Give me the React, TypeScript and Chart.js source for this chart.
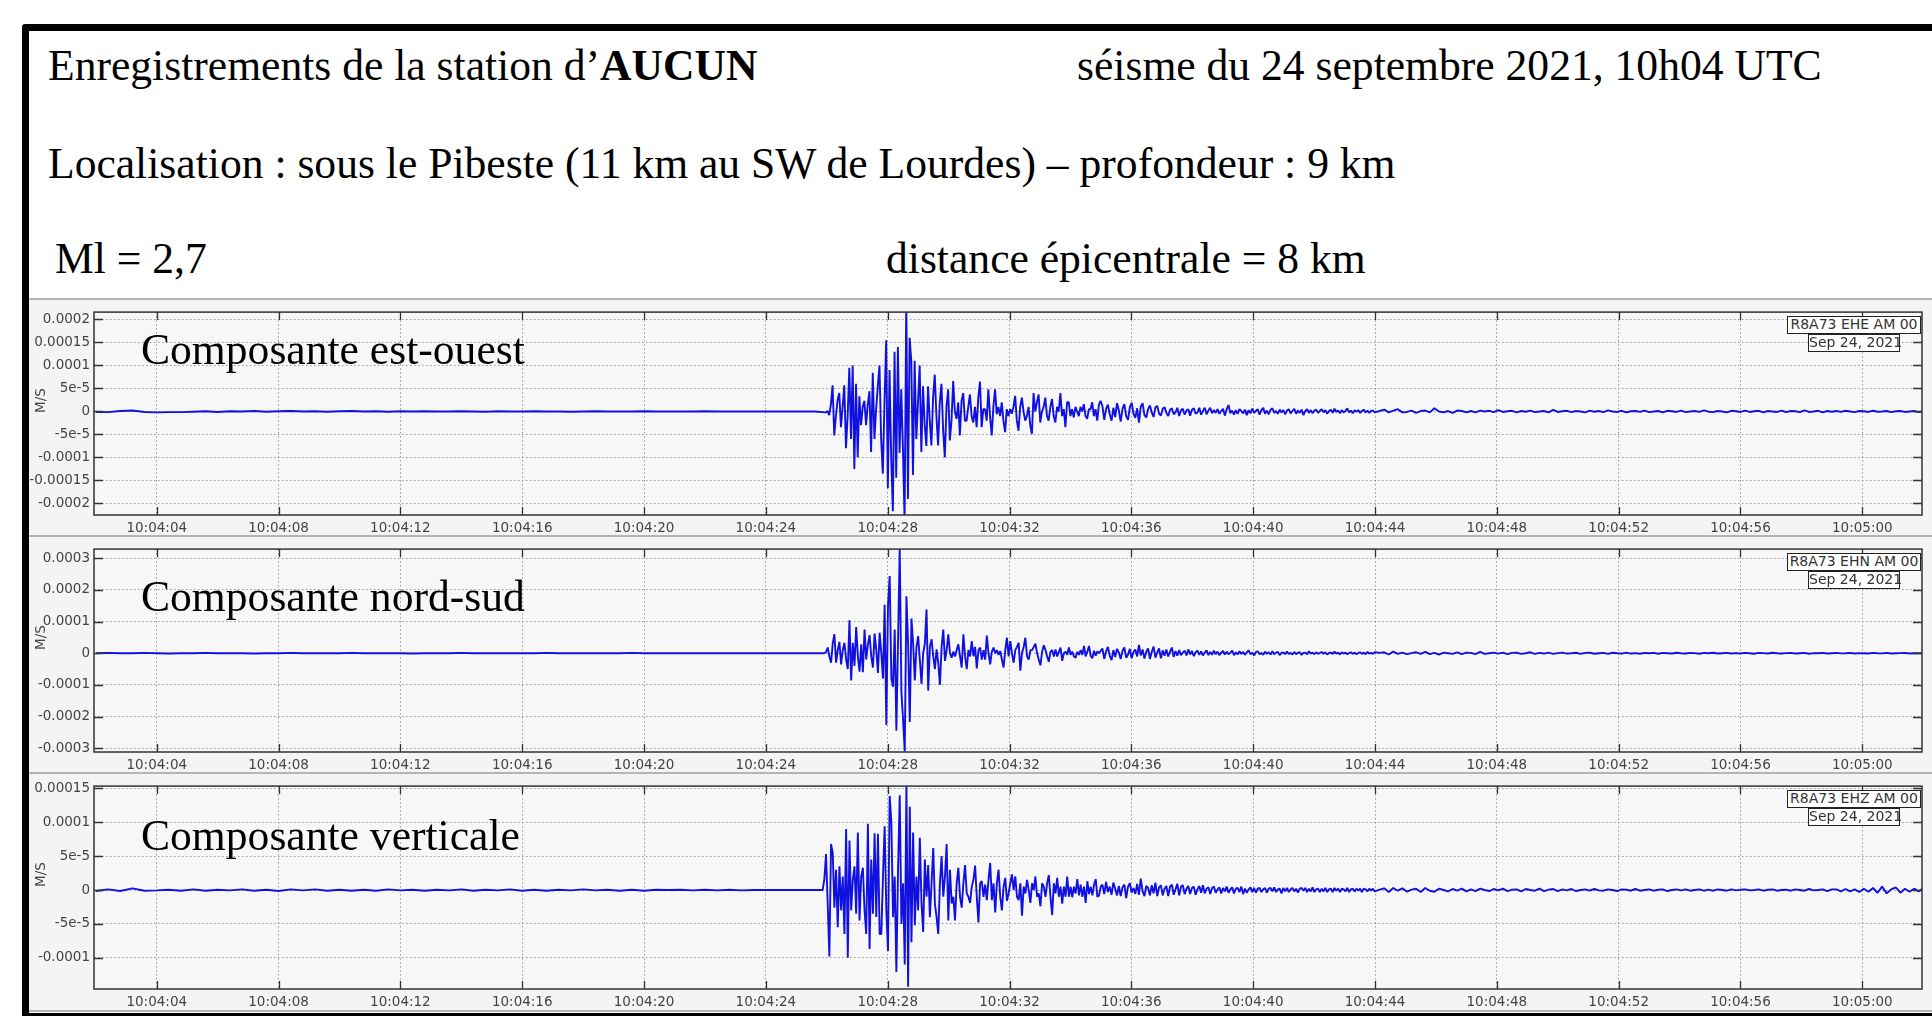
import { useEffect, useRef } from "react";
import { Chart, registerables } from "chart.js";
Chart.register(...registerables);

// all trace values are in units of 1e-5 M/S
const xTickSeconds = [4, 8, 12, 16, 20, 24, 28, 32, 36, 40, 44, 48, 52, 56, 60];
const xTickLabels = [
  "10:04:04", "10:04:08", "10:04:12", "10:04:16", "10:04:20", "10:04:24", "10:04:28", "10:04:32",
  "10:04:36", "10:04:40", "10:04:44", "10:04:48", "10:04:52", "10:04:56", "10:05:00",
];

const eheYTicks = [-20, -15, -10, -5, 0, 5, 10, 15, 20];
const eheYLabels = ["-0.0002", "-0.00015", "-0.0001", "-5e-5", "0", "5e-5", "0.0001", "0.00015", "0.0002"];
const ehnYTicks = [-30, -20, -10, 0, 10, 20, 30];
const ehnYLabels = ["-0.0003", "-0.0002", "-0.0001", "0", "0.0001", "0.0002", "0.0003"];
const ehzYTicks = [-10, -5, 0, 5, 10, 15];
const ehzYLabels = ["-0.0001", "-5e-5", "0", "5e-5", "0.0001", "0.00015"];

const ehePre = [
  -0.1, -0.15, 0.1, 0.2, -0.1, -0.2, -0.15, -0.15, -0.05, 0.05, -0.1, 0.05, 0, 0.1, -0.05, 0.05, 0.1, 0, 0.05, -0.05,
  0.05, 0.1, 0, 0.05, -0.05, 0.05, 0, 0.05, 0, 0, 0.05, 0, -0.05, 0.05, 0, 0, 0.05, 0, 0, -0.05,
  0, 0.05, 0, 0, 0, 0.05, 0, 0, 0, 0, 0.05, 0, 0, 0, 0, 0, 0, 0, 0, 0,
];
const eheBurst = [
  -0.2, 0.1, -0.8, 1.5, 5.7, -5.2, -1, 2.5, 4, -3.4, 1, 5.7, -8, -1, 9.5, -6, 10, -12.5, 6, -10,
  3.3, -3, 1, 2.3, -3, 1.5, 4.4, -8.8, 8.4, -6, 0.5, 5.5, 10, -6, -13.5, 2, 15.5, -16.7, 9, -10,
  -21.7, 13, -14.4, 14, -9, 4.8, -8, -24, 24, -19, 16, 11, -13.8, 11, -6, 2, 10, -8.8, 5.5, -3,
  -7.5, 5.5, -2, -7.4, 3, 8, -1, -7.4, 2, 6, -4, -10, 1, 4.8, -6.3, -2, 6.6, 0, -1.6, 2,
  -5.2, 2.3, 4, -2, -2, 1, 3.7, -1, -2.4, 1, -3.4, 3, 6.5, -3.4, 0.5, 0.5, -2, 4.8, -1, -5.2,
  1, 4.8, -0.6, 1, -1, 2, -2, -4.5, 0.5, -1, 0.5, -0.5, 1, 3.4, -2, -4.2, 1, 3, 0, -2,
  -1, 1, -3, -4.9, 4, 0, 2, 3.7, -2.4, 0, 1, 3, -1, -2, 1, 2.7, -1, -2.4, 1, 0,
  4, -1, 0.5, -3.4, 2, 2, -1, 0.5, -1.3, 1, 0, -1, 1, 0, 1.6, -1, -1.6, 0.5, 0.5, 2,
  -1, 0.5, -2, 1.5, 2.3,
];
const eheCoda = [
  1.2, -1.8, 0.5, 1.5, -0.6, -2, 0.8, -1.2, 1.8, 0.2, -2.2, 0.6, 1.6, -1, -1.8, 0.9, 1.9, -0.4, -1.4, 0.7,
  -2.4, 1.1, 1.8, -0.8, -1.3, 0.5, 1.3, -0.2, -1.2, 0.9, 1.2, -0.5, -0.9, 0.6, 0.9, -0.3, -1, 0.4, 0.7, -0.6,
  -0.2, 0.8, -1, 0.3, 0.6, -0.7, 0.2, 0.5, -0.9, 0.4, 0.7, -0.5, -0.2, 0.8, -0.7, 0.1, 0.8, -0.6, 0.2, 0.8,
  -0.4, 0.3, -0.3, 0.5, -0.5, 0.1, 0.6, -0.9, 0.5, 1.4, -0.4, 0.2, -0.7, 0.3, -0.5, 0.5, 0.1, -0.4, 0.4, -0.8,
  0.3, -0.4, 0.6, -0.3, 0.1, 0.5, -0.7, 0.3, 0.8, -0.5, 0.2, -0.6, 0.4, 0.7, -0.3, 0.1, -0.5, 0.4, -0.2, 0.3,
  -0.6, 0.2, 0.5, -0.4, 0.1, 0.6, -0.5, 0.2, -0.3, 0.4, -0.8, 0.1, 0.5, -0.3, 0.3, -0.4, 0.2, 0.4, -0.3, 0.1,
  0.5, -0.2, 0.3, -0.5, 0.1, 0.4, -0.3, 0.6, -0.1, 0.2, -0.4, 0.3, -0.2, 0.1, 0.7, -0.2, 0.2, -0.4, 0.3, -0.1,
  0.3, -0.3, 0.1, 0.4, -0.2, 0.2, -0.3, 0.1, 0.2, -0.2,
];
const eheTail = [
  0.1, 0.4, -0.2, 0.2, 0.5, -0.2, -0.1, 0.2, -0.3, 0.1, 0.2, -0.2, 0.7, 0, -0.2, 0.1, -0.3, 0.2, 0.1, -0.2,
  0.1, -0.2, 0.2, 0, 0.15, -0.15, 0.3, -0.1, 0.05, 0.15, -0.2, 0.1, -0.05, 0.2, -0.15, 0, 0.1, -0.2, 0.35, -0.1,
  0.05, 0.15, -0.15, 0.1, 0, -0.2, 0.2, -0.05, 0.1, -0.15, 0.25, 0, -0.1, 0.15, -0.2, 0.05, 0.1, -0.1, 0.2, -0.15,
  0, 0.1, -0.2, 0.15, 0.05, -0.1, 0.2, -0.15, 0, 0.1, -0.1, 0.25, -0.05, -0.15, 0.1, 0, -0.2, 0.15, 0.05, -0.1,
  0.2, -0.1, 0.05, 0.15, -0.2, 0.1, 0, -0.1, 0.2, -0.15, 0.1, 0.05, -0.15, 0.25, -0.1, 0, 0.15, -0.2, 0.1, -0.05,
  0.1, -0.1, 0.15, 0, -0.15, 0.1, 0.05, -0.1, 0.15, -0.05, 0, 0.1, -0.15, 0.05, 0.1, -0.1, 0, 0.1, -0.15, 0.05,
];

const ehnPre = [
  0, 0.1, 0, 0, 0.1, 0, -0.1, 0, 0, 0.1, 0, 0, 0, -0.1, 0, 0, 0.1, 0, 0, 0,
  0, 0.1, 0, 0, 0, 0, -0.1, 0, 0, 0, 0.1, 0, 0, 0, 0, 0, 0, 0.1, 0, 0,
  0, 0, 0, 0, 0.1, 0, 0, 0, 0, 0, 0, 0, 0, 0, 0, 0, 0, 0, 0, 0,
];
const ehnBurst = [
  0, 0.4, 1.8, -1, -3, 3, 6, -3, 1, 3.6, -3.5, 1, 3.3, -2, -5, 10.4, -8.6, 3.3, -4, 8.3,
  -1, -5.8, 2.8, -6, 7.5, -2, 2.8, 5.7, -1, -4.5, 6.2, 1, -6.2, 6.5, 0, -8, 15.3, -22.7, 15, 24.4,
  -8, -10.6, 7.5, -24.5, 4, 33, -12.3, -21, -31, 18, 3, -21.7, 11, 3, -8.6, 2, 5.4, -2, -9.7, 0,
  3, 13.8, -11.8, 2, 4.4, -1, -5, 1.2, -3, -10, 2, 7.5, -2.4, 1, 6, 0, -1.4, 0.5, -1, 1,
  2.8, -1, -4.5, 6, -1, -5, 1, -1, 3.8, -1, 2, -4.8, 1, 1.8, -2, 1, -2, 5.6, 0, -3.5,
  0.5, 1.8, 0, 1, -0.5, 0.7, -2, -4.5, 1, 4.9, -1, 3.8, 0, -3, 1, 2, 3.3, -5.5, 0, 2,
  4.9, -1, -2, 1, 1, 2, 3, 0, -2, -3.8, 0.5, 2.5, 1, -1, -2.7, 0.5, 1, -1, 1.2, -1,
  0.5, 1.8, -2.4, 0, 0.5, -0.5, 1.8, -0.5, 0.5, -1, -1.4, 0.5, -0.5, 1, -0.5, 2.3, -1, 0.5, 2.3, -0.8,
  -1.6, 0.8, -0.8, 0.6, 0,
];
const ehnCoda = [
  1.5, -1.8, 0.6, 2, -0.8, -2.2, 1, -1.2, 1.4, 0.2, -1.8, 0.8, 1.8, -1.4, -0.5, 1.4, -1.6, 0.4, 1.2, -1,
  2.6, -0.7, 1.2, -1.7, 0.5, 1.5, -1.8, 0.4, 2.1, -1.4, 0.3, 1.5, -1.6, 0.9, -0.8, 1.2, -1, 0.4, 1.8, -1.2,
  0.7, -0.8, 1, -0.6, 0.2, 0.8, -0.7, 1.2, -0.4, 0.7, -0.9, 0.3, 0.8, -0.5, 0.6, -0.7, 0.2, 0.9, -0.6, 0.4,
  -0.5, 0.8, -0.3, 0.5, -0.6, 0.2, 0.7, -0.4, 0.5, -0.3, 0.2, 0.8, -0.6, 0.3, -0.4, 0.6, -0.2, 0.4, -0.5, 0.3,
  0.9, -0.3, 0.2, -0.7, 0.4, 0.6, -0.3, 0.1, -0.5, 0.5, -0.2, 0.3, -0.4, 0.6, -0.3, 0.2, 0.4, -0.6, 0.1, 0.3,
  -0.3, 0.5, -0.2, 0.1, -0.4, 0.4, -0.3, 0.2, 0.3, -0.5, 0.1, 0.2, -0.3, 0.6, -0.1, 0.2, -0.3, 0.3, -0.2, 0.1,
  0.4, -0.2, 0.3, -0.4, 0.1, 0.2, -0.2, 0.5, -0.1, 0.2, -0.4, 0.3, -0.1, 0.2, -0.3, 0.1, 0.3, -0.2, 0.2, -0.3,
  0.1, 0.3, -0.2, 0.2, -0.3, 0.4, -0.1, 0.1, -0.2, 0.3,
];
const ehnTail = [
  0.1, 0.3, -0.4, 0.5, -0.2, 0.2, -0.3, 0.05, 0.3, -0.2, 0.4, -0.3, 0.1, -0.4, 0.2, 0, -0.2, 0.3, -0.3, 0.2,
  0.1, -0.3, 0.4, -0.2, 0, 0.2, -0.1, 0.2, -0.3, 0.1, 0.15, -0.2, 0, 0.3, -0.2, 0.1, -0.1, 0.2, -0.2, 0.05,
  0.2, -0.1, 0, 0.15, -0.2, 0.1, 0.2, -0.15, 0, 0.1, -0.2, 0.15, 0, -0.1, 0.2, -0.1, 0.05, -0.15, 0.1, 0,
  0.1, -0.15, 0.1, 0, -0.1, 0.15, 0, -0.1, 0.1, 0.05, -0.15, 0.1, 0, 0.15, -0.1, 0, 0.1, -0.1, 0.05, -0.1,
  0.1, 0, -0.15, 0.1, 0.05, -0.1, 0.15, 0, -0.1, 0.05, 0.1, -0.1, 0, 0.1, -0.15, 0.05, 0, 0.1, -0.1, 0,
  0.1, -0.05, 0, 0.1, -0.1, 0.05, 0, -0.1, 0.1, 0, -0.05, 0.1, -0.1, 0, 0.05, 0.1, -0.1, 0, 0.05, -0.05,
];

const ehzPre = [
  -0.15, 0.1, -0.15, 0.25, -0.1, -0.05, 0.05, -0.1, 0.1, -0.1, 0.05, -0.05, 0.1, -0.1, 0.05, -0.15, 0.1, -0.05, 0.1, -0.1,
  0.05, -0.1, 0.05, -0.1, 0.1, -0.05, 0.05, -0.1, 0.05, -0.05, 0.1, -0.1, 0.05, -0.05, 0.1, -0.1, 0.05, -0.1, 0.05, -0.05,
  0.1, -0.05, 0.05, -0.1, 0.05, -0.1, 0.05, 0, 0.05, -0.05, 0.05, -0.05, 0.05, -0.05, 0, 0, 0, 0, 0, 0,
];
const ehzBurst = [
  0, 1.6, 5.3, -2, -9.8, 6.8, 5.5, -2.6, 3, -5.5, 3.5, -3, 2, -6.5, 9, -10, 7.3, -3, 1.5, 3.5, -3.5,
  8.5, -4.5, 2, 3.3, -3, -6.5, 9.8, -8.7, 4.5, -3.5, 8.4, -4, 8.3, -6.5, -6.5, 2, 9.4, -3, -9, 13.9,
  10, -4, 2, -12.1, 3, 14, -5, 1, -11, 15.6, -14.3, 12.3, -7.7, 8.5, -5.2, 2, -3, 7.7, -2, -6.2,
  4.5, -1, 3.7, -4, 1, 6.2, -2, -4, -6.5, 1, 5, -1, 2, 6.8, -4.5, 3, -2, -1, -4.5, 1,
  3.3, -1, -2.6, 1, 3.7, -0.5, -1, -1.9, 0.5, 1.5, 3.6, -1, -4.8, 1, 1.3, -1, 0.8, -1.5, 1.5, 4,
  -1.5, 1, -3.3, 1, 3, -1, -3, 0.5, 1.8, -1.6, -0.5, 1, 2.3, 0, 2, -1, -1.5, 1, -3.8, 0.5,
  -0.5, 1.5, 0, -1.9, 1, 0, 2, -1, -0.5, -2.4, 1, 0.5, -1, 1, 2.2, -1, -3.7, 1, -0.5, 1.8,
  -1, 0.5, -2, 0.5, -1, 2, -1, 0.5, -1.1, 0.5, -0.5, 1.6, -0.8, 0.8, -1, 0.5, -1.9, 1.3, -0.6, 0.5,
  -0.8, 0.8, 1.6, -1, -0.8, 0.5,
];
const ehzCoda = [
  0.8, -0.6, 1.2, -0.3, 0.5, -0.7, 1.1, 0.2, -0.8, 0.6, -0.9, 0.4, 0.8, -1.2, 0.5, 1, -0.4, 0.3, -0.6, 0.9,
  -0.7, 1.7, -0.2, -0.9, 0.6, 0.3, -0.8, 0.7, -0.5, 1.1, -0.9, 0.4, 0.7, -0.8, 0.2, 0.6, -0.9, 0.5, 0.8, -0.7,
  0.1, 0.9, -0.8, 0.5, 0.7, -0.6, 0.2, 0.6, -0.6, 0.3, 0.5, -0.7, 0.1, 0.6, -0.4, 0.7, -0.5, 0.2, 0.4, -0.6,
  0.3, 0.5, -0.4, 0.1, 0.4, -0.5, 0.3, -0.2, 0.5, -0.4, 0.1, 0.4, -0.5, 0.2, 0.3, -0.3, 0.5, -0.6, 0.2, -0.4,
  0.1, 0.4, -0.3, 0.3, -0.4, 0.2, 0.3, -0.3, 0.1, 0.3, -0.4, 0.2, 0.3, -0.2, 0.4, -0.3, 0.1, 0.2, -0.5, 0.3,
  -0.2, 0.3, -0.3, 0.1, 0.3, -0.2, 0.2, -0.4, 0.2, 0.3, -0.1, 0.3, -0.3, 0.2, -0.2, 0.4, -0.3, 0.1, 0.2, -0.3,
  0.2, -0.2, 0.3, -0.3, 0.1, 0.2, -0.3, 0.3, -0.1, 0.2, -0.3, 0.2, 0.1, -0.2, 0.3, -0.3, 0.1, 0.2, -0.2, 0.2,
  -0.1, 0.2, -0.3, 0.2, 0.1, -0.2, 0.2, -0.1, 0.2, -0.2,
];
const ehzTail = [
  0.05, 0.25, -0.3, 0.3, -0.1, 0.25, -0.25, 0.05, 0.2, -0.3, 0.3, -0.1, -0.25, 0.2, 0, -0.2, 0.15, -0.1, 0.2, -0.2,
  0.1, -0.15, 0.2, 0, -0.15, 0.15, -0.05, 0.2, -0.15, 0.05, 0.1, -0.2, 0.15, 0, -0.1, 0.2, -0.15, 0.05, 0.15, -0.15,
  0.1, -0.05, 0.15, -0.15, 0, 0.1, -0.1, 0.15, -0.05, -0.1, 0.1, 0, -0.15, 0.1, 0.05, -0.1, 0.15, -0.1, 0, 0.1,
  -0.1, 0.05, 0.1, -0.15, 0, 0.1, -0.05, 0.1, -0.1, 0, 0.1, -0.1, 0.05, -0.1, 0.1, 0, -0.1, 0.1, -0.05, 0.05,
  0.1, -0.05, 0, 0.1, -0.1, 0.05, 0.1, -0.1, 0, 0.05, -0.1, 0.1, 0, -0.1, 0.15, -0.05, 0, 0.1, -0.15, 0.1,
  0.1, -0.2, 0.15, -0.2, 0.1, -0.3, 0.2, -0.25, 0.3, -0.4, 0.5, -0.5, 0.1, 0.4, -0.4, 0.2, -0.25, 0.2, -0.2, 0.25,
];

const preStart = 2;
const preStep = 0.4;
const burstStep = 0.055;
const codaStart = 35.05;
const codaStep = 0.06;
const tailStart = 44.15;
const tailStep = 0.15;

const buildPoints = (pre: number[], burst: number[], burstStart: number, coda: number[], tail: number[]) => [
  ...pre.map((y, i) => ({ x: preStart + i * preStep, y })),
  ...burst.map((y, i) => ({ x: burstStart + i * burstStep, y })),
  ...coda.map((y, i) => ({ x: codaStart + i * codaStep, y })),
  ...tail.map((y, i) => ({ x: tailStart + i * tailStep, y })),
];

// plot background, frame and the short ticks pointing into the plot
const framePlugin = {
  id: "frame",
  beforeDraw: (chart: any) => {
    const { ctx, chartArea: a } = chart;
    ctx.save();
    ctx.fillStyle = "#f7f7f7";
    ctx.fillRect(a.left, a.top, a.right - a.left, a.bottom - a.top);
    ctx.restore();
  },
  afterDraw: (chart: any) => {
    const { ctx, chartArea: a, scales } = chart;
    ctx.save();
    ctx.strokeStyle = "#333";
    ctx.lineWidth = 1.3;
    ctx.beginPath();
    scales.x.ticks.forEach((t: any) => {
      const px = Math.round(scales.x.getPixelForValue(t.value)) + 0.5;
      ctx.moveTo(px, a.top);
      ctx.lineTo(px, a.top + 8);
      ctx.moveTo(px, a.bottom);
      ctx.lineTo(px, a.bottom - 8);
    });
    scales.y.ticks.forEach((t: any) => {
      const py = Math.round(scales.y.getPixelForValue(t.value)) + 0.5;
      ctx.moveTo(a.left, py);
      ctx.lineTo(a.left + 9, py);
      ctx.moveTo(a.right, py);
      ctx.lineTo(a.right - 9, py);
    });
    ctx.stroke();
    ctx.lineWidth = 1.5;
    ctx.strokeRect(a.left, a.top, a.right - a.left, a.bottom - a.top);
    ctx.restore();
  },
};

const Trace = ({ top, points, yMin, yMax, yTicks, yLabels }: any) => {
  const ref = useRef<HTMLCanvasElement>(null);

  useEffect(() => {
    const chart = new Chart(ref.current!, {
      type: "line",
      data: {
        datasets: [
          {
            data: points,
            borderColor: "#1010e0",
            borderWidth: 1.9,
            borderJoinStyle: "bevel",
            pointRadius: 0,
            tension: 0,
          },
        ],
      },
      options: {
        responsive: false,
        animation: false,
        devicePixelRatio: 1,
        layout: { padding: { top: 10, right: 10, left: 0, bottom: 0 } },
        plugins: { legend: { display: false }, tooltip: { enabled: false } },
        scales: {
          x: {
            type: "linear",
            min: 1.94,
            max: 61.96,
            afterFit: (s: any) => {
              s.height = 21;
            },
            afterBuildTicks: (s: any) => {
              s.ticks = xTickSeconds.map((value) => ({ value }));
            },
            grid: { color: "#999", lineWidth: 1, drawTicks: false },
            border: { display: false, dash: [1.5, 2.5] },
            ticks: {
              autoSkip: false,
              maxRotation: 0,
              padding: 5,
              color: "#444",
              font: { family: "DejaVu Sans", size: 13.5 },
              callback: (_v: any, i: number) => xTickLabels[i],
            },
          },
          y: {
            min: yMin,
            max: yMax,
            afterFit: (s: any) => {
              s.width = 65;
            },
            afterBuildTicks: (s: any) => {
              s.ticks = yTicks.map((value: number) => ({ value }));
            },
            grid: { color: "#999", lineWidth: 1, drawTicks: false },
            border: { display: false, dash: [1.5, 2.5] },
            ticks: {
              autoSkip: false,
              padding: 4,
              color: "#444",
              font: { family: "DejaVu Sans", size: 13.5 },
              callback: (_v: any, i: number) => yLabels[i],
            },
          },
        },
      },
      plugins: [framePlugin],
    } as any);
    return () => chart.destroy();
  }, []);

  return (
    <canvas
      ref={ref}
      width={1903}
      height={236}
      style={{ position: "absolute", left: 29, top, width: 1903, height: 236, background: "#f4f4f4" }}
    />
  );
};

const serif = (left: number, top: number, children: any) => (
  <div
    style={{
      position: "absolute",
      left,
      top,
      fontFamily: "Liberation Serif",
      fontSize: 43.6,
      lineHeight: 1,
      color: "#000",
      whiteSpace: "nowrap",
    }}
  >
    {children}
  </div>
);

const tag = (left: number, top: number, width: number, height: number, text: string) => (
  <div
    style={{
      position: "absolute",
      left,
      top,
      width,
      height,
      boxSizing: "border-box",
      border: "1.3px solid #222",
      background: "#fff",
      fontFamily: "DejaVu Sans",
      fontSize: 14,
      lineHeight: `${height - 3}px`,
      textAlign: "center",
      color: "#333",
      whiteSpace: "nowrap",
    }}
  >
    {text}
  </div>
);

const App = () => {
  useEffect(() => {
    document.body.style.margin = "0";
  }, []);

  const panels = [
    {
      top: 300,
      points: buildPoints(ehePre, eheBurst, 25.97, eheCoda, eheTail),
      yMin: -22.5,
      yMax: 21.6,
      yTicks: eheYTicks,
      yLabels: eheYLabels,
      name: "Composante est-ouest",
      nameTop: 328,
      code: "R8A73 EHE AM 00",
    },
    {
      top: 537,
      points: buildPoints(ehnPre, ehnBurst, 25.92, ehnCoda, ehnTail),
      yMin: -31.2,
      yMax: 32.9,
      yTicks: ehnYTicks,
      yLabels: ehnYLabels,
      name: "Composante nord-sud",
      nameTop: 575,
      code: "R8A73 EHN AM 00",
    },
    {
      top: 774,
      points: buildPoints(ehzPre, ehzBurst, 25.865, ehzCoda, ehzTail),
      yMin: -14.62,
      yMax: 15.35,
      yTicks: ehzYTicks,
      yLabels: ehzYLabels,
      name: "Composante verticale",
      nameTop: 814,
      code: "R8A73 EHZ AM 00",
    },
  ];

  return (
    <div style={{ position: "fixed", left: 0, top: 0, width: 1932, height: 1016, overflow: "hidden", background: "#fff" }}>
      <div
        style={{
          position: "absolute",
          left: 22,
          top: 24,
          width: 1930,
          height: 996,
          boxSizing: "border-box",
          border: "7px solid #000",
          borderRadius: 3,
        }}
      />
      {serif(48, 44, <>Enregistrements de la station d’<b>AUCUN</b></>)}
      {serif(1077, 44, "séisme du 24 septembre 2021, 10h04 UTC")}
      {serif(48, 142, "Localisation : sous le Pibeste (11 km au SW de Lourdes) – profondeur : 9 km")}
      {serif(55, 237, "Ml = 2,7")}
      {serif(886, 237, "distance épicentrale = 8 km")}

      {panels.map((p) => (
        <div key={p.code}>
          <div style={{ position: "absolute", left: 29, top: p.top - 2, width: 1903, height: 2, background: "#b4b4b4" }} />
          <Trace top={p.top} points={p.points} yMin={p.yMin} yMax={p.yMax} yTicks={p.yTicks} yLabels={p.yLabels} />
          <div
            style={{
              position: "absolute",
              left: 30,
              top: p.top + 95,
              width: 20,
              textAlign: "center",
              transform: "rotate(-90deg)",
              fontFamily: "DejaVu Sans",
              fontSize: 13.5,
              color: "#444",
            }}
          >
            M/S
          </div>
          {serif(141, p.nameTop, p.name)}
          {tag(1787, p.top + 16, 134, 18, p.code)}
          {tag(1808, p.top + 34, 92, 18, "Sep 24, 2021")}
        </div>
      ))}
      <div style={{ position: "absolute", left: 29, top: 1010, width: 1903, height: 2, background: "#b4b4b4" }} />
    </div>
  );
};

export default App;
